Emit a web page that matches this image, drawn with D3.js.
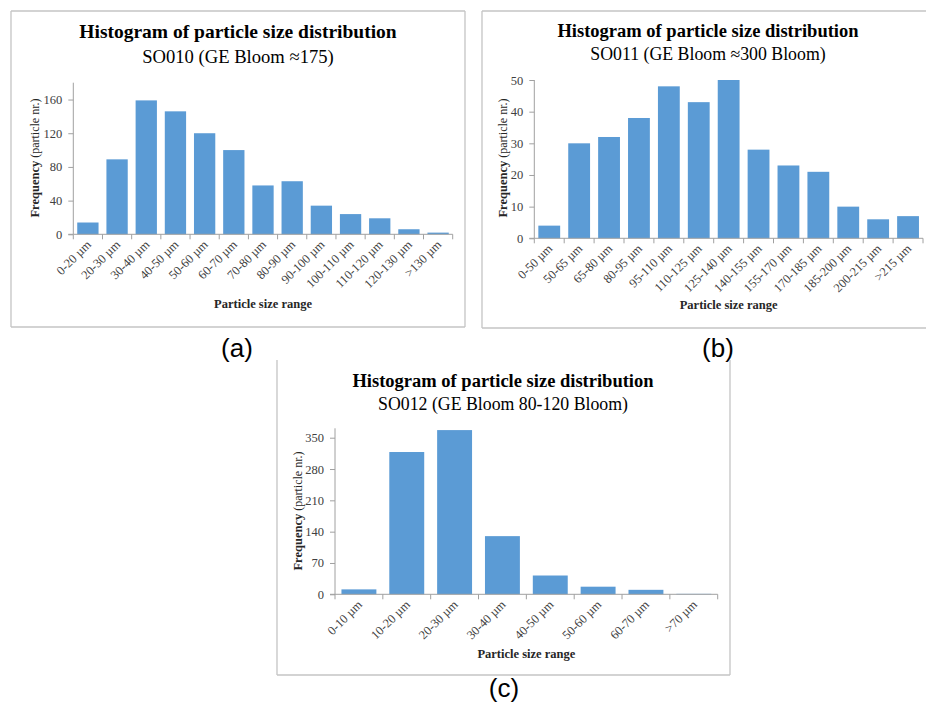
<!DOCTYPE html>
<html>
<head>
<meta charset="utf-8">
<script src="https://cdn.jsdelivr.net/npm/d3@7"></script>
<style>
  body { margin: 0; background: #fff; }
  svg { display: block; }
  text { font-family: "Liberation Serif", "Times New Roman", serif; }
</style>
</head>
<body>
<svg id="chart" width="926" height="707"></svg>
<script>
// panel (a) SO010
const catsA = ["0-20 µm", "20-30 µm", "30-40 µm", "40-50 µm", "50-60 µm", "60-70 µm", "70-80 µm",
    "80-90 µm", "90-100 µm", "100-110 µm", "110-120 µm", "120-130 µm", ">130 µm"];
const valsA = [14, 89, 159, 146, 120, 100, 58, 63, 34, 24, 19, 6, 2];
const ticksA = [0, 40, 80, 120, 160];

// panel (b) SO011
const catsB = ["0-50 µm", "50-65 µm", "65-80 µm", "80-95 µm", "95-110 µm", "110-125 µm", "125-140 µm",
    "140-155 µm", "155-170 µm", "170-185 µm", "185-200 µm", "200-215 µm", ">215 µm"];
const valsB = [4, 30, 32, 38, 48, 43, 50, 28, 23, 21, 10, 6, 7];
const ticksB = [0, 10, 20, 30, 40, 50];

// panel (c) SO012
const catsC = ["0-10 µm", "10-20 µm", "20-30 µm", "30-40 µm", "40-50 µm", "50-60 µm", "60-70 µm", ">70 µm"];
const valsC = [11, 318, 367, 130, 42, 17, 10, 1];
const ticksC = [0, 70, 140, 210, 280, 350];

const svg = d3.select("#chart");
const blue = "#5b9bd5";
const border = "#c4c4c4";
const axisGrey = "#a0a0a0";

function drawPanel(p) {
    const g = svg.append("g");

    // frame (each side optional)
    p.frame.forEach(s => {
        g.append("line")
            .attr("x1", s[0]).attr("y1", s[1]).attr("x2", s[2]).attr("y2", s[3])
            .attr("stroke", border).attr("stroke-width", 1.3);
    });

    const x = d3.scaleBand()
        .domain(p.cats)
        .range([p.x0, p.x1])
        .paddingInner(0.27)
        .paddingOuter(0.135);

    const y = d3.scaleLinear()
        .domain([0, p.ymax])
        .range([p.y0, p.y1]);

    // titles
    g.append("text")
        .attr("x", p.cx).attr("y", p.t1)
        .attr("text-anchor", "middle")
        .attr("font-weight", "bold")
        .attr("font-size", p.fs)
        .attr("fill", "#000")
        .text("Histogram of particle size distribution");
    g.append("text")
        .attr("x", p.cx).attr("y", p.t2)
        .attr("text-anchor", "middle")
        .attr("font-size", p.fs2)
        .attr("fill", "#000")
        .text(p.sub);

    // bars
    g.selectAll("rect.bar")
        .data(p.vals)
        .enter().append("rect")
        .attr("class", "bar")
        .attr("x", (d, i) => x(p.cats[i]))
        .attr("width", x.bandwidth())
        .attr("y", d => y(d))
        .attr("height", d => y(0) - y(d))
        .attr("fill", blue);

    // y axis
    const yAxis = d3.axisLeft(y).tickValues(p.ticks).tickSize(5).tickPadding(6);
    const ya = g.append("g")
        .attr("transform", `translate(${p.x0},0)`)
        .call(yAxis);
    ya.attr("font-family", null);
    ya.select(".domain").attr("stroke", axisGrey).attr("d", `M-5,${p.y0}H0V${p.y1}`);
    ya.selectAll(".tick line").attr("stroke", axisGrey);
    ya.selectAll(".tick text")
        .attr("font-size", 12.5)
        .attr("fill", "#404040");

    // x axis line + boundary ticks
    const xa = g.append("g");
    xa.append("line")
        .attr("x1", p.x0).attr("x2", p.x1)
        .attr("y1", p.y0).attr("y2", p.y0)
        .attr("stroke", axisGrey);
    const step = x.step();
    const bounds = d3.range(p.cats.length + 1).map(i => p.x0 + i * step);
    xa.selectAll("line.bt")
        .data(bounds)
        .enter().append("line")
        .attr("class", "bt")
        .attr("x1", d => d).attr("x2", d => d)
        .attr("y1", p.y0).attr("y2", p.y0 + 5)
        .attr("stroke", axisGrey);

    // rotated category labels
    xa.selectAll("text.cat")
        .data(p.cats)
        .enter().append("text")
        .attr("class", "cat")
        .attr("text-anchor", "end")
        .attr("font-size", 12.5)
        .attr("fill", "#404040")
        .attr("transform", d => `translate(${x(d) + x.bandwidth() / 2 + 4},${p.y0 + 11}) rotate(-45)`)
        .text(d => d);

    // axis titles
    g.append("text")
        .attr("x", (p.x0 + p.x1) / 2).attr("y", p.xt)
        .attr("text-anchor", "middle")
        .attr("font-weight", "bold")
        .attr("font-size", 12.5)
        .attr("fill", "#262626")
        .text("Particle size range");

    const yt = g.append("text")
        .attr("transform", `translate(${p.yx},${p.yc}) rotate(-90)`)
        .attr("text-anchor", "middle")
        .attr("font-size", 12.5)
        .attr("fill", "#262626");
    yt.append("tspan").attr("font-weight", "bold").text("Frequency");
    yt.append("tspan").attr("font-size", 12).text(" (particle nr.)");

    // panel letter
    svg.append("text")
        .attr("x", p.lx).attr("y", p.ly)
        .attr("text-anchor", "middle")
        .style("font-family", "'Liberation Sans', Arial, sans-serif")
        .attr("font-size", 26)
        .attr("fill", "#000")
        .text(p.letter);
}

drawPanel({
    cats: catsA, vals: valsA, ticks: ticksA, ymax: 180,
    sub: "SO010 (GE Bloom ≈175)",
    frame: [[11, 11, 465, 11], [11, 11, 11, 327], [11, 327, 465, 327], [465, 11, 465, 327]],
    x0: 73.3, x1: 452.7, y0: 234.3, y1: 82.7,
    cx: 238, t1: 38, t2: 63, fs: 19.5, fs2: 18.6,
    xt: 308, yx: 39, yc: 158,
    letter: "(a)", lx: 237, ly: 357
});

drawPanel({
    cats: catsB, vals: valsB, ticks: ticksB, ymax: 50,
    sub: "SO011 (GE Bloom ≈300 Bloom)",
    frame: [[482, 11, 926, 11], [482, 11, 482, 328], [482, 328, 926, 328]],
    x0: 534.3, x1: 923, y0: 238.3, y1: 80,
    cx: 708, t1: 37, t2: 60, fs: 18.5, fs2: 17.8,
    xt: 309, yx: 507, yc: 158,
    letter: "(b)", lx: 718, ly: 357
});

drawPanel({
    cats: catsC, vals: valsC, ticks: ticksC, ymax: 371,
    sub: "SO012 (GE Bloom 80-120 Bloom)",
    frame: [[277, 360, 277, 675], [277, 675, 730, 675], [730, 360, 730, 675]],
    x0: 335, x1: 717.7, y0: 594.3, y1: 428.3,
    cx: 503, t1: 387, t2: 410, fs: 18.5, fs2: 17.8,
    xt: 658, yx: 302, yc: 511,
    letter: "(c)", lx: 504, ly: 697
});
</script>
</body>
</html>
